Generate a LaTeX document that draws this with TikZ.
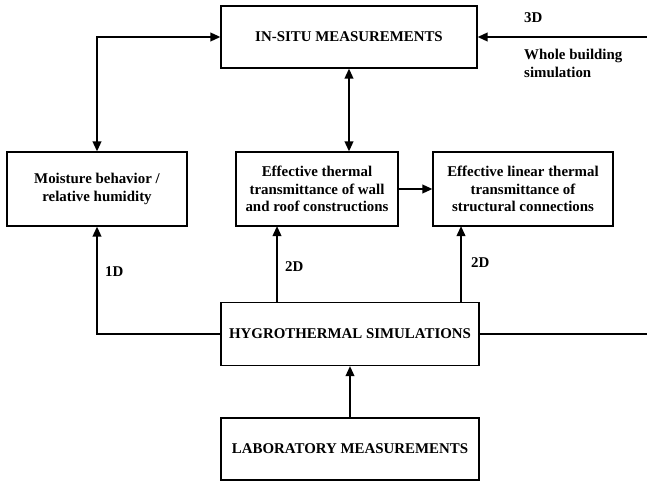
\documentclass[tikz,border=0pt]{standalone}
\usepackage{fontspec}
\setmainfont{Liberation Serif}
\usetikzlibrary{arrows.meta}
\begin{document}
\begin{tikzpicture}[x=1pt,y=-1pt,
  box/.style={draw,line width=1.1pt,inner sep=0pt,align=center,font=\bfseries\fontsize{14.9}{17.3}\selectfont},
  lbl/.style={inner sep=0pt,anchor=west,align=left,font=\bfseries\fontsize{14.9}{18}\selectfont},
  conn/.style={line width=2pt,-{Triangle[length=10pt,width=8.5pt]}},
  conn2/.style={line width=2pt,{Triangle[length=10pt,width=8.5pt]}-{Triangle[length=10pt,width=8.5pt]}},
  plain/.style={line width=2pt}]
\useasboundingbox (0,0) rectangle (647,481);
\node[box,minimum width=256pt,minimum height=62pt] (insitu) at (349,37) {IN-SITU MEASUREMENTS};
\node[box,minimum width=180pt,minimum height=74pt] (moist) at (97,189) {Moisture behavior /\\relative humidity};
\node[box,minimum width=162pt,minimum height=74pt] (therm) at (317,189) {Effective thermal\\transmittance of wall\\and roof constructions};
\node[box,minimum width=180pt,minimum height=74pt] (lin) at (523,189) {Effective linear thermal\\transmittance of\\structural connections};
\node[box,minimum width=258pt,minimum height=63pt] (hyg) at (350,334) {HYGROTHERMAL SIMULATIONS};
\node[box,minimum width=258pt,minimum height=62pt] (lab) at (350,449) {LABORATORY MEASUREMENTS};
\coordinate (rlow) at (648,334);
\coordinate (rtop) at (648,37);
\coordinate (t2a) at (277,226);
\coordinate (t2b) at (461,226);
% connectors
\draw[conn2] (moist.north) |- (insitu.west);
\draw[conn2] (insitu.south) -- (insitu.south |- therm.north);
\draw[conn] (therm.east) -- (lin.west);
\draw[conn] (hyg.west) -| (moist.south);
\draw[conn] (t2a |- hyg.north) -- (t2a);
\draw[conn] (t2b |- hyg.north) -- (t2b);
\draw[plain] (hyg.east) -- (rlow);
\draw[conn] (rtop) -- (insitu.east);
\draw[conn] (lab.north) -- (hyg.south);
% labels
\node[lbl] (l3d) at (524,18) {3D};
\node[lbl] (lwb) at (524,63) {Whole building\\simulation};
\node[lbl] (l1d) at (105,272) {1D};
\node[lbl] (l2a) at (285,267) {2D};
\node[lbl] (l2b) at (471,263) {2D};
\end{tikzpicture}
\end{document}
